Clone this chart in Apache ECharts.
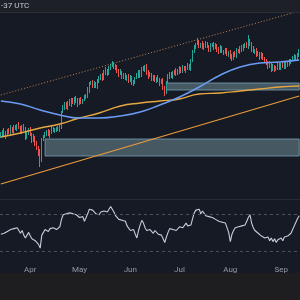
<!DOCTYPE html>
<html>
<head>
<meta charset="utf-8">
<script src="https://cdn.jsdelivr.net/npm/echarts@6/dist/echarts.min.js"></script>
<style>
  html, body { margin: 0; padding: 0; background: #161a25; }
  #chart { width: 300px; height: 300px; }
</style>
</head>
<body>
<div id="chart"></div>
<script>
const closes = [
  66,69,64,67,70,67,72,69,73,71,75,72,
  68,74,70,63,67,71,65,60,
  63,57,52,48,40,60,64,
  66,69,65,68,72,69,70,72,70,73,
  88,92,
  96,93,98,95,100,97,102,99,96,101,98,100,103,104,
  110,116,118,114,
  117,113,118,122,
  125,121,128,130,126,132,135,136,
  132,134,129,126,128,123,125,121,124,
  120,122,116,118,122,124,
  128,125,132,130,134,127,
  124,126,121,123,119,122,120,117,120,
  112,108,
  118,123,126,124,128,126,130,127,
  131,129,133,130,132,134,131,
  140,148,153,156,158,
  154,156,152,155,157,153,150,154,156,152,155,151,148,152,149,147,150,146,148,
  143,141,
  147,145,150,148,152,150,154,156,153,
  160,156,
  151,148,150,145,147,143,145,142,139,
  137,133,136,131,134,130,132,
  135,132,136,133,137,134,136,138,
  140,142,144,141,145,148
];
const firstOpen = 64;

const upWick = [
  2,1,3,2,1,2,3,1,2,2, 1,3,2,1,2,3,2,1,2,2, 3,1,2,2,3,2,1,2,1,2,
  2,3,1,2,1,2,2,1,3,2, 2,1,3,2,2,1,2,3,1,2, 1,2,2,3,2,1,2,2,1,3,
  2,1,2,2,3,1,2,1,3,2, 2,1,2,3,1,2,2,1,2,3, 2,2,1,3,2,2,1,2,1,2,
  3,2,1,2,2,1,3,2,1,2, 2,1,3,2,2,1,2,2,1,3, 2,2,1,2,3,2,1,2,2,1,
  4,2,1,3,2,2,1,2,3,1, 2,2,1,2,3,2,1,2,2,1, 2,3,1,2,2,1,2,3,2,1,
  2,5,1,2,3,1,2,2,1,3, 2,1,2,2,3,1,2,1,2,3, 2,1,2,2,1,2,3,1,2,2,
  1,2,3
];
const downWick = [
  2,2,1,3,2,1,2,2,3,1, 2,1,2,2,1,3,2,2,1,3, 2,3,2,4,7,2,1,2,2,1,
  3,2,1,2,2,1,2,2,1,2, 2,3,1,2,1,2,2,3,1,2, 2,1,2,2,3,1,2,2,1,2,
  1,2,2,1,3,2,1,2,2,1, 2,2,3,1,2,2,1,2,3,2, 1,2,2,1,2,3,2,1,2,2,
  3,1,2,2,1,2,2,3,1,2, 4,2,1,2,2,3,1,2,2,1, 2,2,1,3,2,1,2,2,1,2,
  1,2,2,1,2,3,1,2,2,1, 2,1,3,2,1,2,2,1,2,3, 2,2,1,2,3,1,2,2,1,2,
  1,2,2,3,1,2,2,1,3,2, 2,1,2,2,1,3,2,2,1,2, 2,2,1,2,3,1,2,2,1,2,
  1,2,2
];

const rsi = [
  48,46,49,47,51,50,53,51,54,52,55,53,
  49,52,47,44,47,50,46,43,
  45,41,39,37,33,47,
  50,53,52,51,54,53,55,54,53,55,56,
  64,69,71,70,
  70,71,69,70,68,69,70,66,64,67,62,63,
  70,75,77,74,
  72,70,71,69,72,70,73,71,72,75,78,79,
  72,68,66,64,65,63,64,62,
  57,55,52,50,53,48,44,
  52,58,63,60,
  55,52,50,53,51,49,52,50,
  48,46,47,43,39,
  45,50,54,56,53,55,52,54,
  56,58,55,57,60,57,59,58,
  65,71,74,76,75,
  70,73,71,68,70,67,69,66,68,
  64,66,62,64,61,63,60,62,
  50,40,
  48,52,55,53,56,54,57,55,58,60,
  66,69,
  60,55,52,54,49,51,46,48,44,
  42,45,41,44,40,43,39,42,40,44,41,45,43,46,44,
  49,53,57,61,65,68
];

// moving averages, read at a few days and smoothed by the line
const maDays    = [0, 12, 24, 36, 48, 60, 73, 85, 97, 109, 121, 134, 146, 158, 170, 182];
const blueMA    = [99, 96, 90, 85, 82, 82, 84, 88, 95, 103, 113, 125, 133, 137, 138, 140];
const orangeMA  = [63, 67, 72, 76, 82, 87, 94, 97, 99, 101, 106, 107, 109, 111, 113, 114];

// trend lines: [startDay, value, endDay, value]
const upperTrend = [0, 105, 180, 188];
const lowerTrend = [0, 16, 182, 104];
// zones: [fromDay, toDay, low, high]
const zones = [
  [27, 182, 44, 61],
  [101, 182, 110, 117]
];

const monthNames = ['Jan','Feb','Mar','Apr','May','Jun','Jul','Aug','Sep','Oct','Nov','Dec'];

const dates = [];
const d0 = new Date(Date.UTC(2024, 2, 14));
for (let i = 0; i < closes.length; i++) {
  const d = new Date(d0.getTime() + i * 86400000);
  dates.push(d.toISOString().slice(0, 10));
}

const candles = closes.map((c, i) => {
  const o = i === 0 ? firstOpen : closes[i - 1];
  return [o, c, Math.min(o, c) - downWick[i], Math.max(o, c) + upWick[i]];
});

const maData = (vals) => {
  const out = dates.map(() => null);
  maDays.forEach((day, k) => { out[day] = vals[k]; });
  return out;
};

const chart = echarts.init(document.getElementById('chart'), null, { renderer: 'canvas' });

const option = {
  backgroundColor: '#161a25',
  animation: false,
  grid: [
    { left: 0, right: 0, top: 12, height: 186, outerBoundsMode: 'none' },
    { left: 0, right: 0, top: 199, height: 63, outerBoundsMode: 'none' }
  ],
  xAxis: [
    {
      type: 'category', gridIndex: 0, data: dates, boundaryGap: true,
      axisLine: { show: false }, axisTick: { show: false }, axisLabel: { show: false },
      splitLine: { show: false }
    },
    {
      type: 'category', gridIndex: 1, data: dates, boundaryGap: true,
      axisLine: { show: false }, axisTick: { show: false },
      axisLabel: {
        color: '#9598a1',
        fontSize: 8,
        fontFamily: 'Roboto',
        margin: 4,
        interval: (idx, val) => val.slice(8) === '01',
        formatter: (val) => monthNames[parseInt(val.slice(5, 7), 10) - 1]
      },
      splitLine: { show: false }
    }
  ],
  yAxis: [
    { type: 'value', gridIndex: 0, min: 2, max: 188, show: false },
    { type: 'value', gridIndex: 1, min: 18, max: 86, show: false }
  ],
  series: [
    {
      type: 'candlestick',
      xAxisIndex: 0, yAxisIndex: 0,
      data: candles,
      barWidth: '75%',
      itemStyle: {
        color: '#26a69a', color0: '#ef5350',
        borderColor: '#26a69a', borderColor0: '#ef5350',
        borderWidth: 1
      },
      markArea: {
        silent: true,
        itemStyle: {
          color: 'rgba(142,186,192,0.4)',
          borderColor: 'rgba(125,170,185,0.75)',
          borderWidth: 1
        },
        data: zones.map(z => [
          { coord: [dates[z[0]], z[2]] },
          { coord: [dates[z[1]], z[3]] }
        ])
      },
      markLine: {
        silent: true,
        symbol: ['none', 'none'],
        label: { show: false },
        data: [
          [
            { coord: [dates[upperTrend[0]], upperTrend[1]], lineStyle: { color: '#c08550', width: 1, type: [1, 2] } },
            { coord: [dates[upperTrend[2]], upperTrend[3]] }
          ],
          [
            { coord: [dates[lowerTrend[0]], lowerTrend[1]], lineStyle: { color: '#e99a3c', width: 1.3, type: 'solid' } },
            { coord: [dates[lowerTrend[2]], lowerTrend[3]] }
          ]
        ]
      }
    },
    {
      type: 'line', name: 'MA200',
      xAxisIndex: 0, yAxisIndex: 0,
      data: maData(orangeMA),
      connectNulls: true, smooth: true, symbol: 'none',
      lineStyle: { color: '#e6a743', width: 1.4 }
    },
    {
      type: 'line', name: 'MA100',
      xAxisIndex: 0, yAxisIndex: 0,
      data: maData(blueMA),
      connectNulls: true, smooth: true, symbol: 'none',
      lineStyle: { color: '#6b9cf2', width: 1.5 }
    },
    {
      type: 'line', name: 'RSI',
      xAxisIndex: 1, yAxisIndex: 1,
      data: rsi,
      symbol: 'none',
      lineStyle: { color: '#c9ccdb', width: 1.1 },
      markLine: {
        silent: true,
        symbol: ['none', 'none'],
        label: { show: false },
        lineStyle: { color: '#4c505c', width: 1, type: [3, 3] },
        data: [{ yAxis: 70 }, { yAxis: 30 }]
      }
    }
  ],
  graphic: [
    { type: 'rect', shape: { x: 0, y: 0, width: 300, height: 12 }, style: { fill: '#1d2027' }, z: 10 },
    { type: 'line', shape: { x1: 0, y1: 12.5, x2: 300, y2: 12.5 }, style: { stroke: '#2a2e39', lineWidth: 1 }, z: 10 },
    { type: 'text', left: 1, top: 2, style: { text: '-37 UTC', fill: '#c3c6ce', fontSize: 8, fontFamily: 'Roboto' }, z: 11 },
    { type: 'line', shape: { x1: 0, y1: 199.5, x2: 300, y2: 199.5 }, style: { stroke: '#262a35', lineWidth: 1 }, z: 10 },
    { type: 'rect', shape: { x: 0, y: 273, width: 300, height: 27 }, style: { fill: '#1e1e20' }, z: 10 }
  ]
};

chart.setOption(option);
</script>
</body>
</html>
